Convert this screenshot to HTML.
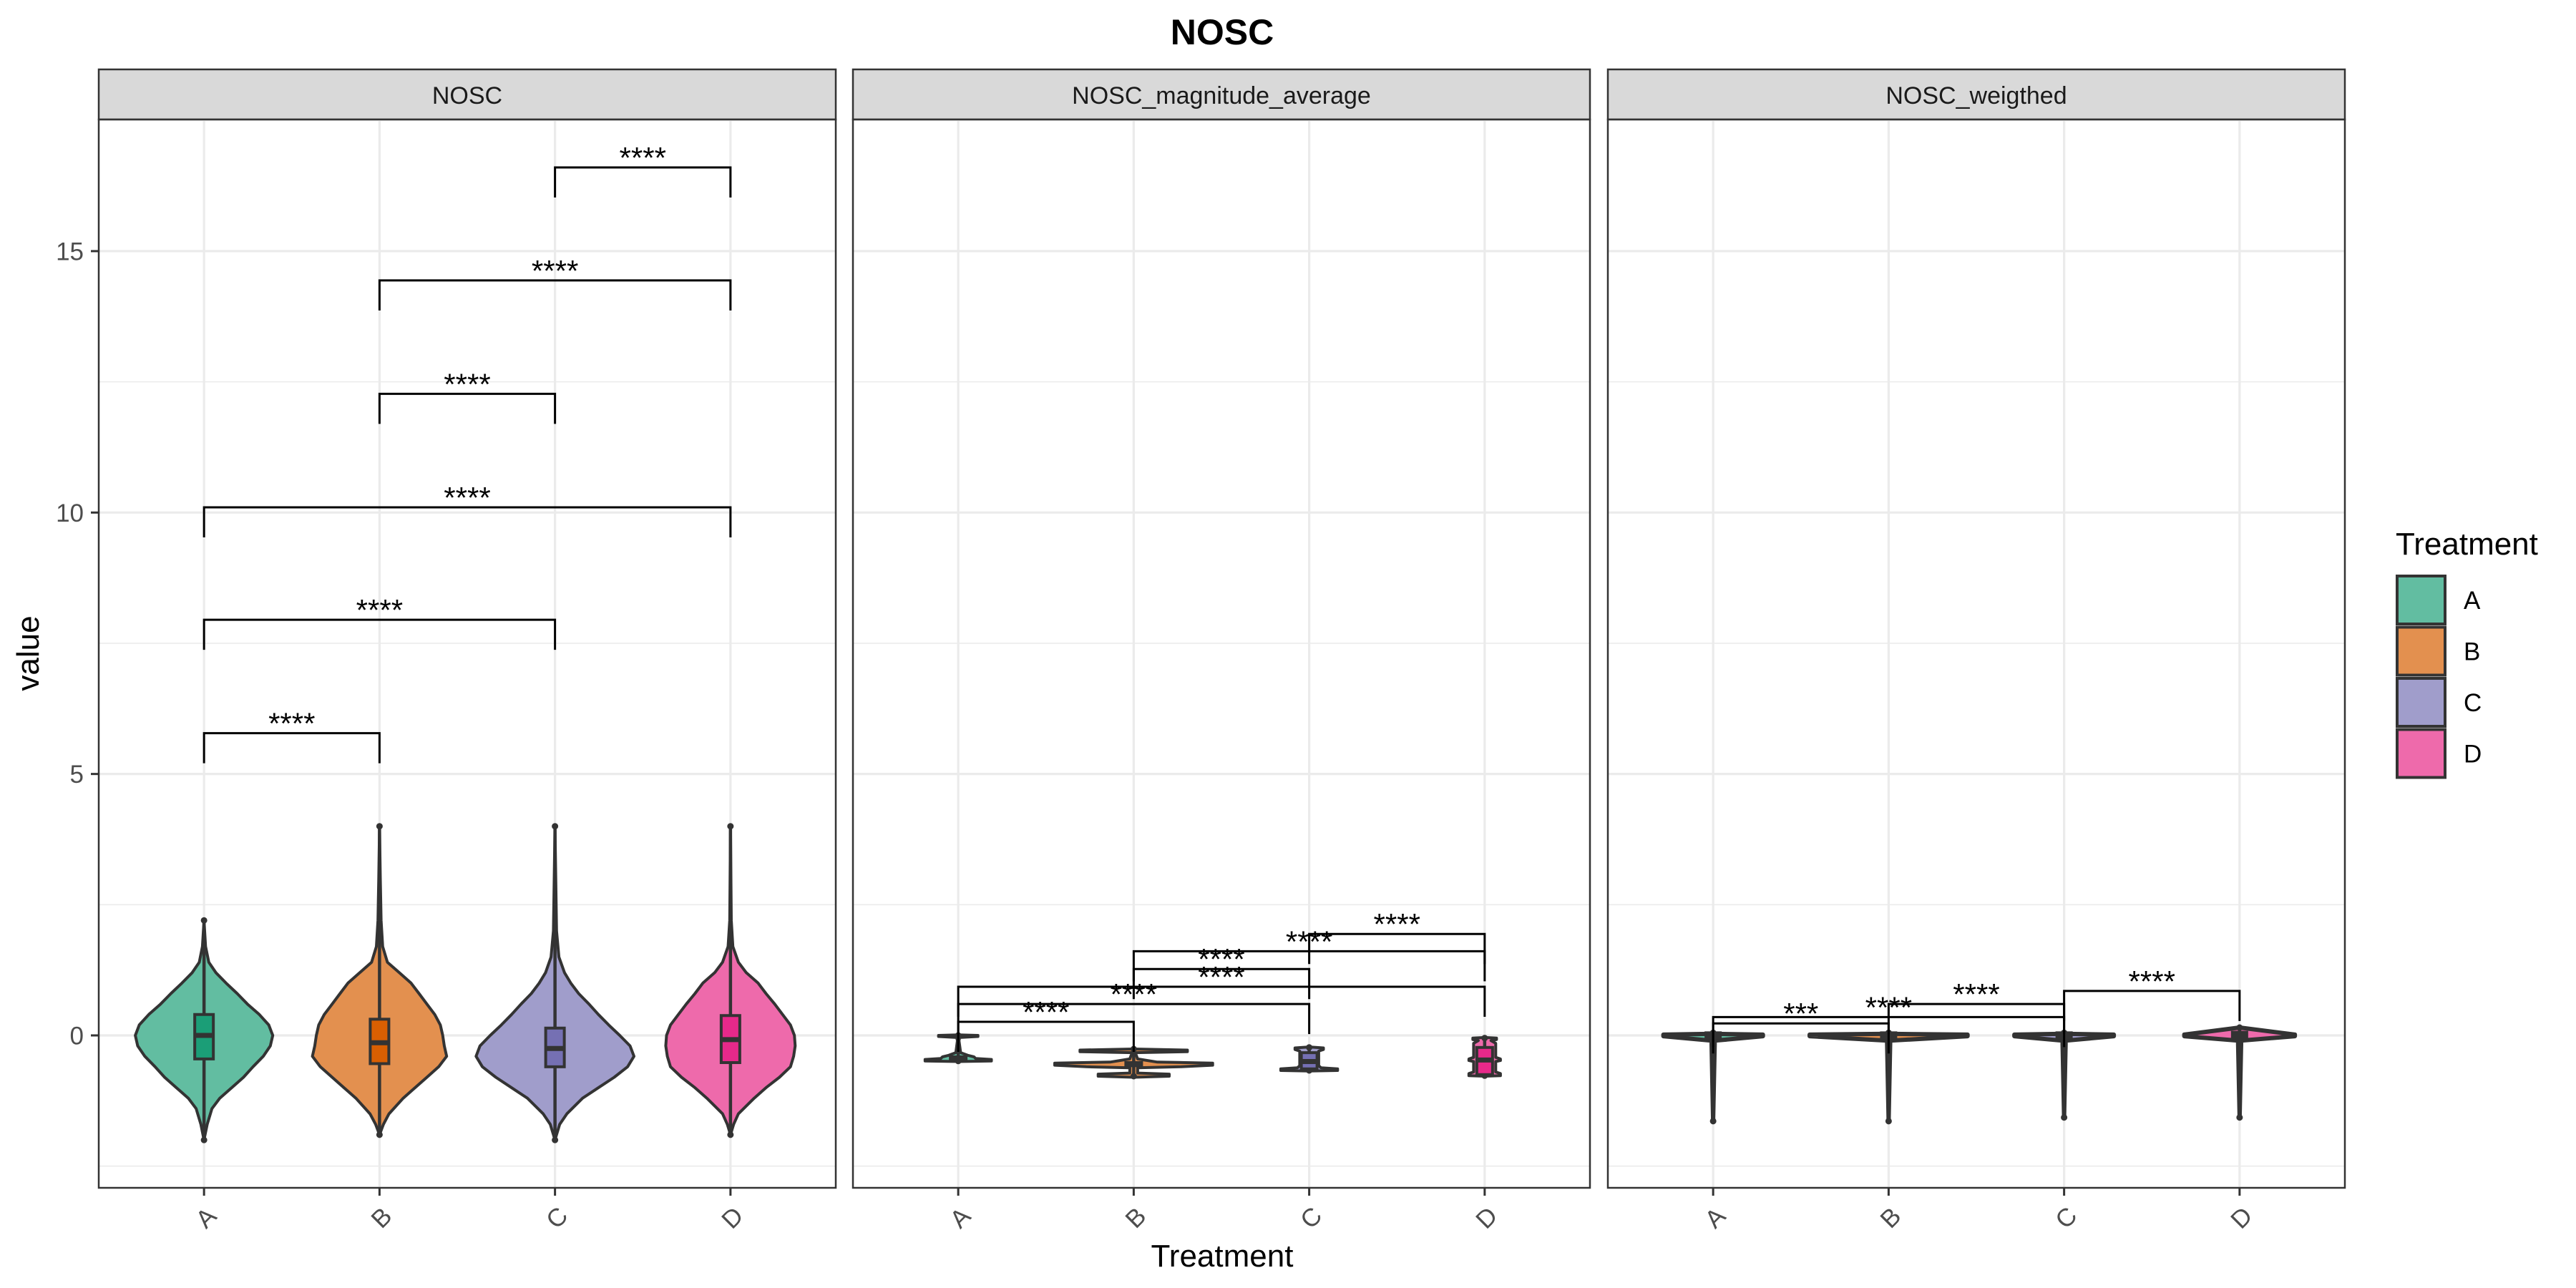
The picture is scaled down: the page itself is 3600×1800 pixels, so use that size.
<!DOCTYPE html>
<html><head><meta charset="utf-8"><style>
html,body{margin:0;padding:0;background:#fff;}
svg{display:block;font-family:"Liberation Sans",Arial,sans-serif;}
</style></head><body>
<svg id="chart" width="3600" height="1800" viewBox="0 0 3600 1800" xmlns="http://www.w3.org/2000/svg">
<text x="1708" y="62" text-anchor="middle" font-size="50" font-weight="bold" fill="#000">NOSC</text>
<text x="0" y="0" transform="translate(54,913) rotate(-90)" text-anchor="middle" font-size="44" fill="#000">value</text>
<text x="1708" y="1770" text-anchor="middle" font-size="44" fill="#000">Treatment</text>
<g id="panels"></g>
<g>
<text x="3348" y="775" font-size="44" fill="#000">Treatment</text>
<g id="legend-keys"></g>
</g>
</svg>
<script>
const categories = ["A","B","C","D"];
const facets = ["NOSC","NOSC_magnitude_average","NOSC_weigthed"];
const yTicks = [0,5,10,15];
const yMinor = [-2.5,2.5,7.5,12.5,17.5];
const violinFill = ["#62bda1","#e3904f","#a09dcb","#ee6aab"];
const boxFill = ["#1B9E77","#D95F02","#7570B3","#E7298A"];

// violin shapes: [value, relative half-width]
const violinP1 = [
 [[-2.0,0],[-1.7,0.04],[-1.4,0.1],[-1.2,0.2],[-1.0,0.35],[-0.8,0.5],[-0.6,0.62],[-0.4,0.75],[-0.2,0.84],[0,0.87],[0.2,0.82],[0.4,0.7],[0.6,0.55],[0.8,0.42],[1.0,0.28],[1.2,0.15],[1.4,0.06],[1.7,0.02],[2.2,0]],
 [[-1.9,0],[-1.7,0.05],[-1.5,0.12],[-1.2,0.3],[-1.0,0.45],[-0.8,0.6],[-0.6,0.75],[-0.4,0.85],[-0.2,0.82],[0,0.8],[0.2,0.77],[0.4,0.7],[0.6,0.6],[0.8,0.5],[1.0,0.4],[1.2,0.25],[1.4,0.1],[1.7,0.04],[2.2,0.02],[3.0,0.01],[4.0,0]],
 [[-2.0,0],[-1.7,0.06],[-1.5,0.15],[-1.2,0.35],[-1.0,0.55],[-0.8,0.75],[-0.6,0.92],[-0.4,1.0],[-0.2,0.95],[0,0.82],[0.2,0.68],[0.4,0.55],[0.6,0.43],[0.8,0.3],[1.0,0.2],[1.2,0.12],[1.5,0.05],[2.0,0.02],[4.0,0]],
 [[-1.9,0],[-1.7,0.04],[-1.5,0.1],[-1.2,0.3],[-1.0,0.45],[-0.8,0.62],[-0.6,0.76],[-0.4,0.8],[-0.2,0.82],[0,0.81],[0.2,0.76],[0.4,0.66],[0.6,0.56],[0.8,0.45],[1.0,0.35],[1.2,0.2],[1.4,0.1],[1.7,0.03],[2.2,0.01],[4.0,0]]
];
const violinP2 = [
 [[-0.5,0],[-0.49,0.42],[-0.46,0.42],[-0.44,0.22],[-0.41,0.2],[-0.38,0.12],[-0.33,0.03],[-0.1,0.01],[-0.04,0.02],[-0.02,0.25],[0,0.25],[0.01,0]],
 [[-0.8,0],[-0.78,0.45],[-0.74,0.45],[-0.72,0.05],[-0.62,0.05],[-0.6,0.6],[-0.57,1.0],[-0.53,1.0],[-0.51,0.3],[-0.45,0.05],[-0.33,0.02],[-0.31,0.68],[-0.28,0.68],[-0.26,0]],
 [[-0.68,0],[-0.67,0.36],[-0.64,0.36],[-0.62,0.15],[-0.58,0.12],[-0.3,0.12],[-0.27,0.18],[-0.24,0.18],[-0.22,0]],
 [[-0.78,0],[-0.77,0.2],[-0.73,0.2],[-0.7,0.14],[-0.5,0.14],[-0.48,0.2],[-0.45,0.2],[-0.42,0.14],[-0.15,0.14],[-0.1,0.08],[-0.08,0.15],[-0.05,0.15],[-0.04,0]]
];
const violinP3 = [
 [[-1.64,0],[-0.1,0.02],[-0.015,0.63],[0.015,0.63],[0.03,0]],
 [[-1.64,0],[-0.1,0.02],[-0.015,1.0],[0.015,1.0],[0.03,0]],
 [[-1.57,0],[-0.1,0.02],[-0.015,0.63],[0.015,0.63],[0.03,0]],
 [[-1.57,0],[-0.1,0.02],[-0.015,0.7],[0.015,0.7],[0.15,0]]
];
// box stats: [whiskerLow, q1, median, q3, whiskerHigh]
const boxP1 = [[-2.0,-0.45,0,0.4,2.2],[-1.9,-0.54,-0.14,0.31,4.0],[-2.0,-0.6,-0.25,0.14,4.0],[-1.9,-0.52,-0.08,0.38,4.0]];
const boxP2 = [[-0.49,-0.46,-0.44,-0.41,0.0],[-0.78,-0.58,-0.55,-0.52,-0.26],[-0.67,-0.64,-0.5,-0.33,-0.23],[-0.77,-0.75,-0.47,-0.23,-0.05]];
const boxP3 = [[-1.64,-0.05,0,0.05,0.05],[-1.64,-0.05,0,0.05,0.05],[-1.57,-0.05,0,0.05,0.05],[-1.57,-0.06,0,0.06,0.15]];
// brackets: pairs, heights, labels
const bracketPairsP1 = [[0,1],[0,2],[0,3],[1,2],[1,3],[2,3]];
const bracketYP1 = [5.78,7.95,10.1,12.27,14.44,16.6];
const bracketLabP1 = ["****","****","****","****","****","****"];
const bracketPairsP2 = [[0,1],[0,2],[0,3],[1,2],[1,3],[2,3]];
const bracketYP2 = [0.26,0.6,0.93,1.27,1.61,1.94];
const bracketLabP2 = ["****","****","****","****","****","****"];
const bracketPairsP3 = [[0,1],[0,2],[1,2],[2,3]];
const bracketYP3 = [0.23,0.35,0.6,0.85];
const bracketLabP3 = ["***","****","****","****"];

const NS = "http://www.w3.org/2000/svg";
function mk(tag, attrs, parent){const e=document.createElementNS(NS,tag);for(const k in attrs)e.setAttribute(k,attrs[k]);parent.appendChild(e);return e;}

const panelLeft = [138,1192,2247];
const panelW = 1030, plotTop = 167, plotBottom = 1660, stripTop = 97;
const y0 = 1447, ppu = 73.07;
function yS(v){return y0 - v*ppu;}
function xS(p,i){return panelLeft[p] + (i+0.6)*(panelW/4.2);}
const halfMax = 0.45*panelW/4.2;

const violins=[violinP1,violinP2,violinP3], boxes=[boxP1,boxP2,boxP3];
const bPairs=[bracketPairsP1,bracketPairsP2,bracketPairsP3], bY=[bracketYP1,bracketYP2,bracketYP3], bLab=[bracketLabP1,bracketLabP2,bracketLabP3];
const boxW=[26,22,20];
const vStroke=[4,4,6];

const root=document.getElementById('panels');
for(let p=0;p<3;p++){
  const L=panelLeft[p];
  const g=mk('g',{},root);
  
  
  const st=mk('rect',{x:L,y:stripTop,width:panelW,height:plotTop-stripTop,fill:'#d9d9d9',stroke:'#333','stroke-width':2.5},g);
  
  
  const stt=mk('text',{x:L+panelW/2,y:145,'text-anchor':'middle','font-size':34,fill:'#1a1a1a'},g);
  stt.textContent=facets[p];
  
  
  yMinor.forEach(v=>{const yy=yS(v);if(yy>plotTop&&yy<plotBottom){const l=mk('line',{x1:L,x2:L+panelW,y1:yy,y2:yy,stroke:'#ebebeb','stroke-width':1.6},g);
    
    }});
  yTicks.forEach(v=>{const yy=yS(v);const l=mk('line',{x1:L,x2:L+panelW,y1:yy,y2:yy,stroke:'#ebebeb','stroke-width':3.2},g);
    
    });
  categories.forEach((c,i)=>{const xx=xS(p,i);const l=mk('line',{x1:xx,x2:xx,y1:plotTop,y2:plotBottom,stroke:'#ebebeb','stroke-width':3.2},g);
    
    });
  categories.forEach((c,i)=>{
    const cx=xS(p,i);const pts=violins[p][i];
    let right=pts.map(d=>(cx+d[1]*halfMax).toFixed(1)+','+yS(d[0]).toFixed(1));
    let left=pts.slice().reverse().map(d=>(cx-d[1]*halfMax).toFixed(1)+','+yS(d[0]).toFixed(1));
    const vp=mk('polygon',{points:right.concat(left).join(' '),fill:violinFill[i],stroke:'#333','stroke-width':vStroke[p],'stroke-linejoin':'round'},g);
    
    
    const b=boxes[p][i];
    const wl=mk('line',{x1:cx,x2:cx,y1:yS(b[0]),y2:yS(b[4]),stroke:'#333','stroke-width':4.5,'stroke-linecap':'round'},g);
    
    
    [b[0],b[4]].forEach(v=>{const o=mk('circle',{cx:cx,cy:yS(v),r:4.5,fill:'#333'},g);
      
      });
    const bw=boxW[p];
    const br=mk('rect',{x:cx-bw/2,y:yS(b[3]),width:bw,height:Math.max(2,yS(b[1])-yS(b[3])),fill:boxFill[i],stroke:'#333','stroke-width':4},g);
    
    
    const md=mk('line',{x1:cx-bw/2,x2:cx+bw/2,y1:yS(b[2]),y2:yS(b[2]),stroke:'#333','stroke-width':7},g);
    
    
  });
  bPairs[p].forEach((pr,k)=>{
    const x1=xS(p,pr[0]),x2=xS(p,pr[1]),yy=yS(bY[p][k]);
    const pl=mk('polyline',{points:`${x1},${yy+42} ${x1},${yy} ${x2},${yy} ${x2},${yy+42}`,fill:'none',stroke:'#000','stroke-width':3},g);
    
    
    const t=mk('text',{x:(x1+x2)/2,y:yy+1,'text-anchor':'middle','font-size':42,fill:'#000'},g);
    t.textContent=bLab[p][k];
    
    
  });
  const bd=mk('rect',{x:L,y:plotTop,width:panelW,height:plotBottom-plotTop,fill:'none',stroke:'#333','stroke-width':2.5},g);
  
  
  categories.forEach((c,i)=>{const xx=xS(p,i);
    const tk=mk('line',{x1:xx,x2:xx,y1:plotBottom,y2:plotBottom+11,stroke:'#333','stroke-width':3},g);
    
    
    const tl=mk('text',{x:0,y:0,transform:`translate(${xx+3},${1702}) rotate(-45)`,'text-anchor':'middle','dominant-baseline':'central','font-size':35,fill:'#4d4d4d'},g);
    tl.textContent=c;
    
    
  });
}
yTicks.forEach(v=>{const yy=yS(v);
  const tk=mk('line',{x1:127,x2:138,y1:yy,y2:yy,stroke:'#333','stroke-width':3},root);
  
  
  const tl=mk('text',{x:117,y:yy+12.5,'text-anchor':'end','font-size':35,fill:'#4d4d4d'},root);
  tl.textContent=String(v);
  
  
});
const lg=document.getElementById('legend-keys');
categories.forEach((c,i)=>{
  const yy=803+i*71.5;
  const r=mk('rect',{x:3350,y:yy+2,width:67,height:67,fill:violinFill[i],stroke:'#333','stroke-width':4},lg);
  
  
  const t=mk('text',{x:3443,y:yy+48,'font-size':35,fill:'#000'},lg);
  t.textContent=c;
  
  
});
</script>
</body></html>
